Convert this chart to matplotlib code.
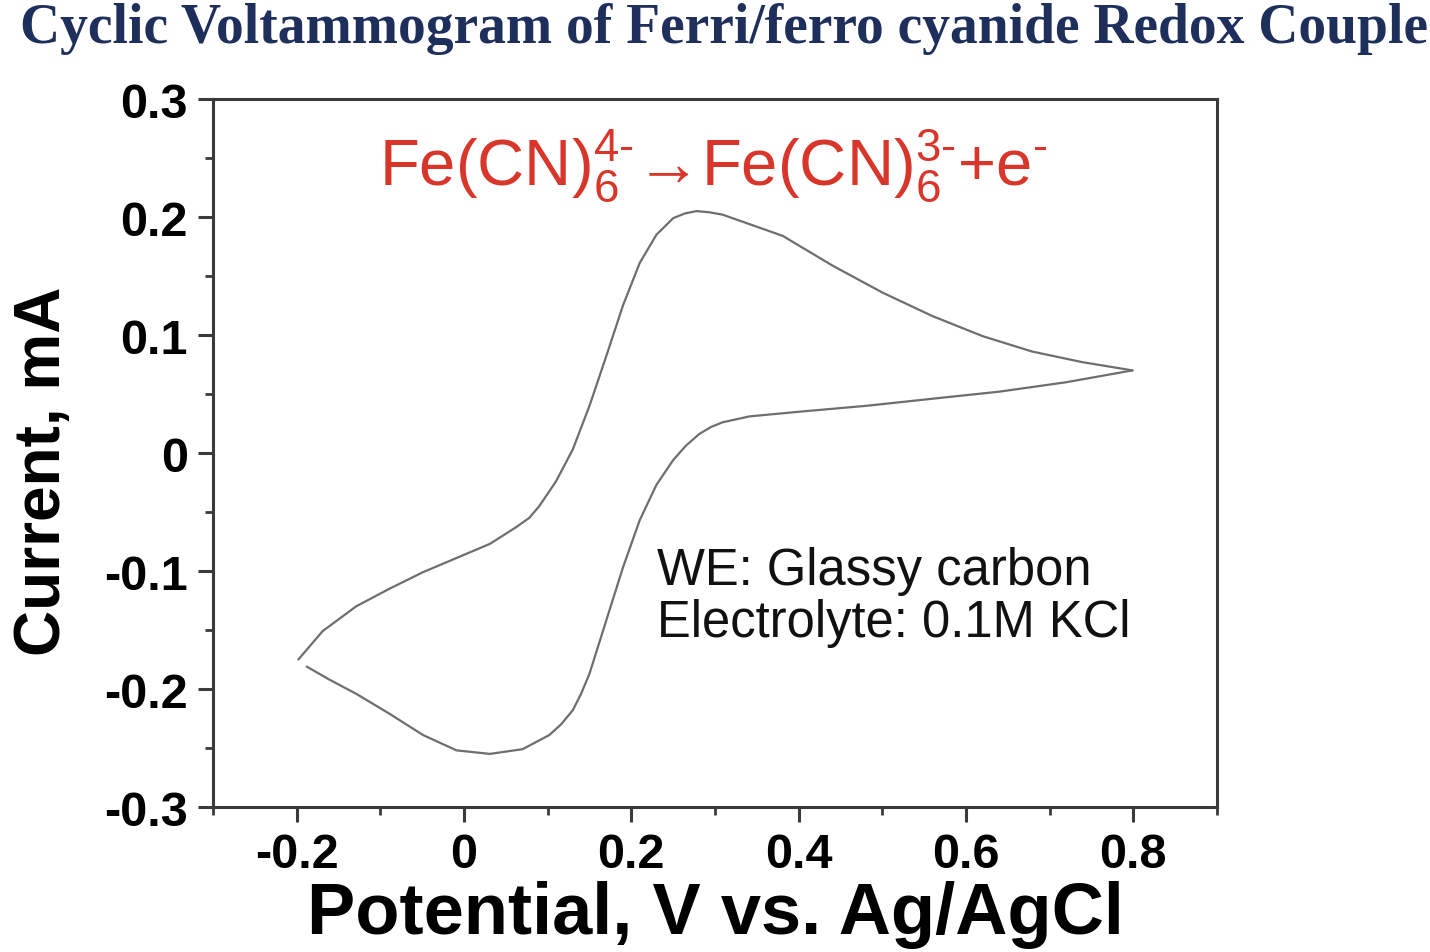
import matplotlib
matplotlib.use("Agg")
import matplotlib.pyplot as plt
from matplotlib.ticker import FixedLocator, MultipleLocator

plt.rcParams['font.family'] = ['Liberation Sans', 'DejaVu Sans']
plt.rcParams['mathtext.fontset'] = 'custom'
plt.rcParams['mathtext.rm'] = 'Liberation Sans'
plt.rcParams['mathtext.it'] = 'Liberation Sans'
plt.rcParams['mathtext.sf'] = 'Liberation Sans'

# Forward (anodic) scan: potential (V) and current (mA)
fwd_potential = [-0.198, -0.169, -0.129, -0.089, -0.049, -0.009, 0.031, 0.062, 0.078, 0.090,
                 0.110, 0.130, 0.150, 0.170, 0.190, 0.210, 0.230, 0.250, 0.264, 0.278,
                 0.293, 0.309, 0.341, 0.381, 0.440, 0.500, 0.560, 0.620, 0.679, 0.739, 0.799]
fwd_current = [-0.175, -0.151, -0.130, -0.115, -0.101, -0.089, -0.077, -0.063, -0.055, -0.045,
               -0.024, 0.003, 0.040, 0.082, 0.125, 0.161, 0.185, 0.199, 0.203, 0.205,
               0.204, 0.202, 0.194, 0.184, 0.159, 0.136, 0.116, 0.099, 0.086, 0.077, 0.070]

# Reverse (cathodic) scan
rev_potential = [0.799, 0.720, 0.640, 0.560, 0.481, 0.401, 0.341, 0.309, 0.295, 0.281,
                 0.265, 0.250, 0.230, 0.210, 0.190, 0.170, 0.150, 0.140, 0.130, 0.116,
                 0.102, 0.070, 0.031, -0.009, -0.049, -0.089, -0.129, -0.161, -0.188]
rev_current = [0.070, 0.060, 0.052, 0.046, 0.040, 0.035, 0.031, 0.026, 0.022, 0.016,
               0.006, -0.006, -0.027, -0.057, -0.097, -0.142, -0.187, -0.204, -0.218, -0.230,
               -0.239, -0.251, -0.255, -0.252, -0.239, -0.221, -0.204, -0.192, -0.181]

x_ticks = [-0.2, 0.0, 0.2, 0.4, 0.6, 0.8]
x_ticklabels = ["-0.2", "0", "0.2", "0.4", "0.6", "0.8"]
y_ticks = [-0.3, -0.2, -0.1, 0.0, 0.1, 0.2, 0.3]
y_ticklabels = ["-0.3", "-0.2", "-0.1", "0", "0.1", "0.2", "0.3"]

fig = plt.figure(figsize=(14.3, 9.53), dpi=100)
ax = fig.add_axes([213/1430, 1 - 808/953, (1217-213)/1430, (808-100)/953])

curve_color = '#6e6e6e'
ax.plot(fwd_potential, fwd_current, color=curve_color, lw=1.6,
        solid_capstyle='round', solid_joinstyle='round')
ax.plot(rev_potential, rev_current, color=curve_color, lw=1.6,
        solid_capstyle='round', solid_joinstyle='round')

ax.set_xlim(-0.3, 0.9)
ax.set_ylim(-0.3, 0.3)

ax.xaxis.set_major_locator(FixedLocator(x_ticks))
ax.set_xticklabels(x_ticklabels)
ax.yaxis.set_major_locator(FixedLocator(y_ticks))
ax.set_yticklabels(y_ticklabels)
ax.xaxis.set_minor_locator(MultipleLocator(0.1))
ax.yaxis.set_minor_locator(MultipleLocator(0.05))

spine_color = '#3a3a3a'
for s in ax.spines.values():
    s.set_color(spine_color)
    s.set_linewidth(2.2)

ax.tick_params(which='major', direction='out', length=11, width=2.2, color=spine_color,
               labelsize=35, pad=7)
ax.tick_params(which='minor', direction='out', length=6, width=2.0, color=spine_color)
for lab in ax.get_xticklabels() + ax.get_yticklabels():
    lab.set_fontweight('bold')

ax.set_xlabel("Potential, V vs. Ag/AgCl", fontsize=52, fontweight='bold')
ax.xaxis.set_label_coords(0.5, -0.103)
ax.set_ylabel("Current, mA", fontsize=46, fontweight='bold')
ax.yaxis.set_label_coords(-0.139, 0.475)

ax.text(0.498, 0.880,
        r"Fe(CN)$_6^{4\text{-}}$" + "\u2192" + r"Fe(CN)$_6^{3\text{-}}$+e$^{\text{-}}$",
        transform=ax.transAxes, ha='center', va='baseline', fontsize=47, color='#d8362a')

ax.text(0.442, 0.315, "WE: Glassy carbon", transform=ax.transAxes,
        ha='left', va='baseline', fontsize=36.5, color='#111111')
ax.text(0.442, 0.2415, "Electrolyte: 0.1M KCl", transform=ax.transAxes,
        ha='left', va='baseline', fontsize=36.5, color='#111111')

fig.text(20/1430, 1 - 43/953, "Cyclic Voltammogram of Ferri/ferro cyanide Redox Couple",
         ha='left', va='baseline', fontsize=40, fontweight='bold',
         family=['Liberation Serif', 'DejaVu Serif'], color='#1f2f5c')

fig.savefig("out.png", dpi=100, facecolor='white')
